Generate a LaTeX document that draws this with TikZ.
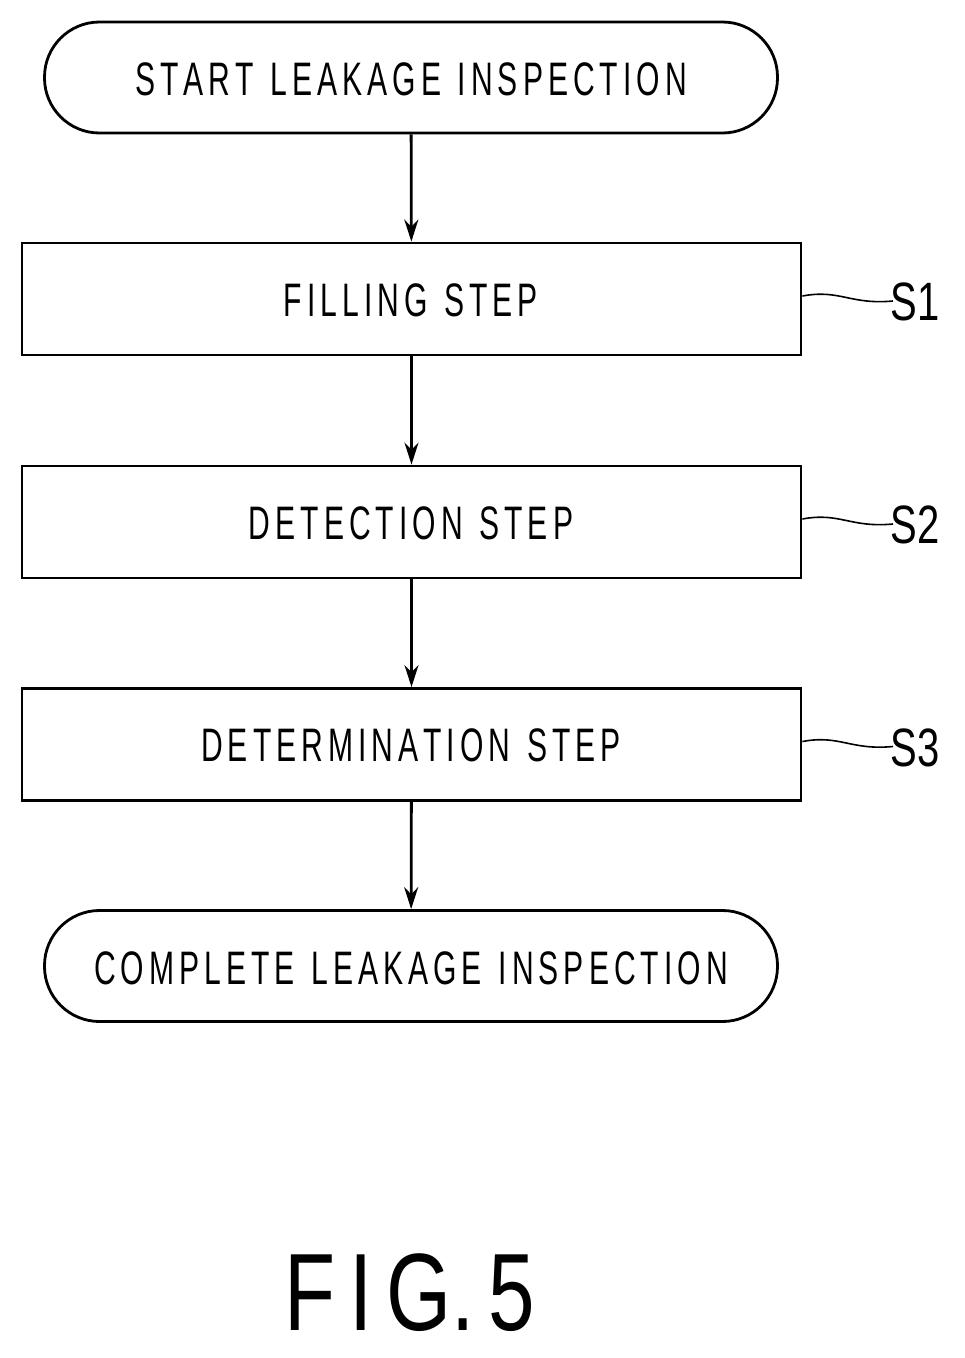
\documentclass[tikz,border=0pt]{standalone}
\usepackage{fontspec}
\setmainfont{Liberation Sans}
\usetikzlibrary{arrows.meta}
\begin{document}
\begin{tikzpicture}[x=1pt,y=-1pt,line width=2.8pt,
  term/.style={draw,rounded corners=55pt,minimum width=733pt,minimum height=111pt,inner sep=0pt},
  box/.style={draw,minimum width=779pt,minimum height=112pt,inner sep=0pt},
  txt/.style={font=\fontsize{47}{47}\selectfont,xscale=0.64},
  lab/.style={font=\fontsize{54}{54}\selectfont,xscale=0.74,anchor=west},
  arr/.style={-{Stealth[length=22pt,width=14pt]}}]
\useasboundingbox (0,0) rectangle (965,1358);
\node[term] (start) at (411,77.5) {};
\node[txt] at (411,79) {S\,T\,A\,R\,T\ \ L\,E\,A\,K\,A\,G\,E\ \ I\,N\,S\,P\,E\,C\,T\,I\,O\,N};
\node[box] (s1) at (411.5,299) {};
\node[txt] at (411,300) {F\,I\,L\,L\,I\,N\,G\ \ S\,T\,E\,P};
\node[box] (s2) at (411.5,522) {};
\node[txt] at (411,523) {D\,E\,T\,E\,C\,T\,I\,O\,N\ \ S\,T\,E\,P};
\node[box] (s3) at (411.5,744.5) {};
\node[txt] at (411,745) {D\,E\,T\,E\,R\,M\,I\,N\,A\,T\,I\,O\,N\ \ S\,T\,E\,P};
\node[term] (end) at (411,966) {};
\node[txt] at (411,968) {C\,O\,M\,P\,L\,E\,T\,E\ \ L\,E\,A\,K\,A\,G\,E\ \ I\,N\,S\,P\,E\,C\,T\,I\,O\,N};
\draw[arr] (start) -- (s1);
\draw[arr] (s1) -- (s2);
\draw[arr] (s2) -- (s3);
\draw[arr] (s3) -- (end);
\foreach \n/\y in {1/299,2/522,3/744.5}{
  \node[lab] (l\n) at (887,\y+3) {S\n};
  \draw[line width=1.6pt] (s\n.east|-0,\y-3) .. controls (840,\y-10) and (850,\y+6) .. (893,\y+2);
}
\node[font=\fontsize{110}{110}\selectfont,xscale=0.76] (fig) at (410,1293) {F\,I\,G.\,5};
\end{tikzpicture}
\end{document}
